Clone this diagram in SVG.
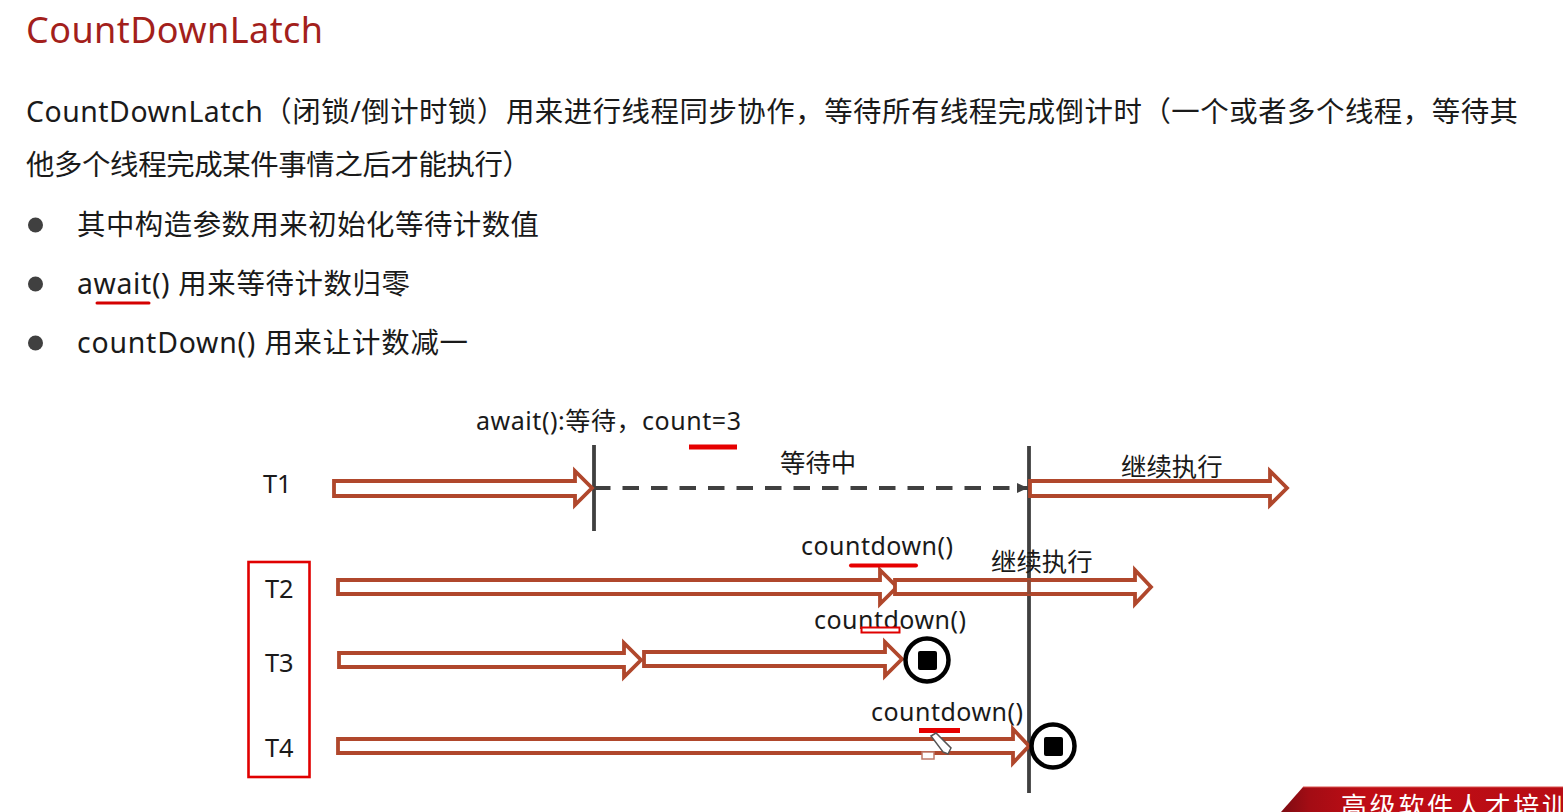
<svg xmlns="http://www.w3.org/2000/svg" width="1563" height="812" viewBox="0 0 1563 812">
<style>
text{font-family:"Noto Sans","Noto Sans CJK SC",sans-serif;fill:#1a1a1a}
.body{font-size:28.4px}
.lab{font-size:25.4px}
.fn{font-size:25px}
.arrow{fill:#fff;stroke:#b0472c;stroke-width:3.8}
.bar{stroke:#404040;stroke-width:3.8;fill:none}
.mark{stroke:#e60000;stroke-width:4;fill:none;stroke-linecap:round}
.stop{fill:#fff;stroke:#000;stroke-width:4.5}
.stopin{fill:#000}
</style>
<defs>
<linearGradient id="bn" x1="0" y1="0" x2="1" y2="0"><stop offset="0" stop-color="#7d0b12"/><stop offset="0.1" stop-color="#a30c14"/><stop offset="0.3" stop-color="#c00d15"/><stop offset="1" stop-color="#b80c14"/></linearGradient>
<marker id="tri" markerUnits="userSpaceOnUse" markerWidth="12" markerHeight="12" refX="11" refY="6" orient="auto"><path d="M0 1L11 6L0 11Z" fill="#404040"/></marker>
</defs>
<rect width="1563" height="812" fill="#fff"/>
<g id="heading">
<text x="26" y="43" font-size="36" style="fill:#a31f1c" textLength="297">CountDownLatch</text>
<text class="body" x="26" y="122" textLength="1492">CountDownLatch（闭锁/倒计时锁）用来进行线程同步协作，等待所有线程完成倒计时（一个或者多个线程，等待其</text>
<text class="body" x="26" y="175" textLength="505">他多个线程完成某件事情之后才能执行）</text>
</g>
<g id="bullets">
<circle cx="35.500" cy="225" r="7.500" fill="#404040"/>
<text class="body" x="77" y="235" textLength="462">其中构造参数用来初始化等待计数值</text>
<circle cx="35.500" cy="284" r="7.500" fill="#404040"/>
<text class="body" x="77" y="294" textLength="333">await() 用来等待计数归零</text>
<path class="mark" d="M97 303H149" style="stroke:#d40000;stroke-width:3"/>
<circle cx="35.500" cy="343" r="7.500" fill="#404040"/>
<text class="body" x="77" y="353" textLength="391">countDown() 用来让计数减一</text>
</g>
<g id="connectors">
<path class="bar" d="M594 445V531"/>
<path class="bar" d="M1029 446V793"/>
<path class="bar" d="M594 488H1028" stroke-dasharray="16.500 12" marker-end="url(#tri)"/>
</g>
<g id="t1">
<text class="lab" x="263" y="493">T1</text>
<path class="arrow" d="M334 481H575V471L592 488L575 505V496H334Z"/>
<text class="fn" x="476" y="430" textLength="265">await():等待，count=3</text>
<path class="mark" d="M689 447H737" style="stroke-width:5;stroke-linecap:butt"/>
<text class="lab" x="780" y="472">等待中</text>
<path class="arrow" d="M1030 481H1270V471L1287 488L1270 505V496H1030Z"/>
<text class="lab" x="1121" y="476">继续执行</text>
</g>
<g id="threads">
<rect x="248.500" y="562" width="61" height="215" fill="none" stroke="#e00000" stroke-width="2.600"/>
</g>
<g id="t2">
<text class="lab" x="265" y="598">T2</text>
<path class="arrow" d="M338 580H880V570L897 587L880 604V594H338Z"/>
<path class="arrow" d="M895 580H1135V570L1151 587L1135 604V594H895Z"/>
<path class="bar" d="M1029 580V594" style="stroke:#8a4a38"/>
<text class="fn" x="801" y="555" textLength="152">countdown()</text>
<path class="mark" d="M851 565.500H916"/>
<text class="lab" x="991" y="571">继续执行</text>
</g>
<g id="t3">
<text class="lab" x="265" y="672">T3</text>
<path class="arrow" d="M339 653H624V643L641 660L624 677V667H339Z"/>
<path class="arrow" d="M644 652H885V642L902 659L885 676V666H644Z"/>
<text class="fn" x="814" y="629" textLength="152">countdown()</text>
<rect x="861.500" y="627.500" width="38" height="5" fill="#fff" stroke="#e00000" stroke-width="2"/>
<circle class="stop" cx="927" cy="660" r="21.500"/>
<rect class="stopin" x="918" y="651" width="19" height="19" rx="2"/>
</g>
<g id="t4">
<text class="lab" x="265" y="757">T4</text>
<path class="arrow" d="M338 739H1013V729L1029 746L1013 763V753H338Z"/>
<text class="fn" x="871" y="721" textLength="152">countdown()</text>
<path class="mark" d="M919 730.500H960" style="stroke-width:5;stroke-linecap:butt"/>
<circle class="stop" cx="1053" cy="746" r="21.500"/>
<rect class="stopin" x="1044" y="737" width="19" height="19" rx="2"/>
</g>
<g id="cursor">
<path d="M931 736L936 733L951 748L948 754L943 752Z" fill="#fff" stroke="#555" stroke-width="1.500"/>
<rect x="922" y="752" width="12" height="7" fill="#fff" stroke="#c07a68" stroke-width="1.500"/>
</g>
<g id="banner">
<path d="M1303 787H1563V812H1281Z" fill="url(#bn)"/>
<path d="M1303 787H1563" stroke="#d9534f" stroke-width="1"/>
<text x="1341" y="816" font-size="26" letter-spacing="2.700" style="fill:#fff;font-family:'Noto Sans CJK SC',sans-serif">高级软件人才培训</text>
</g>
</svg>
